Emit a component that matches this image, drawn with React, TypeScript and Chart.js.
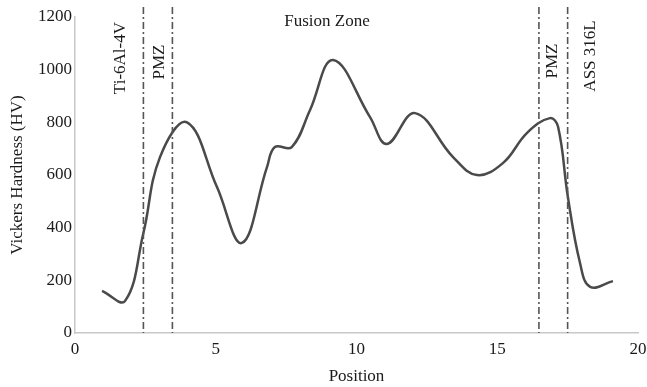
import React, { useEffect, useRef } from "react";
import { Chart, registerables } from "chart.js";

Chart.register(...registerables);

// Measured positions along the joint and Vickers hardness values
const positions = [
  0.96, 1.78, 2.43, 3.02, 3.98, 5.04, 5.93, 6.82, 7.1, 7.7, 8.35, 9.17, 10.48,
  11.08, 12.08, 13.43, 14.28, 15.2, 16.06, 16.87, 17.16, 17.51, 17.94, 18.3,
  19.11,
];
const hardness = [
  160, 122, 380, 668, 800, 555, 342, 630, 706, 706, 847, 1037, 820, 718, 835,
  668, 600, 645, 760, 816, 783, 516, 266, 175, 197,
];

// Zone boundaries (x positions of dash-dot lines)
const boundaryPositions = [2.43, 3.46, 16.48, 17.5];

// Zone labels
const zoneLabels = ["Ti-6Al-4V", "PMZ", "Fusion Zone", "PMZ", "ASS 316L"];
const zoneLabelX = [1.63, 3.02, 8.95, 16.98, 18.3];
const zoneLabelY = [1044, 1029, 1181, 1033, 1052];
const zoneLabelRotated = [true, true, false, true, true];

const FONT = "'Liberation Serif', 'Times New Roman', serif";

export default function App() {
  const ref = useRef<HTMLCanvasElement>(null);

  useEffect(() => {
    if (!ref.current) return;

    const zonesPlugin = {
      id: "zones",
      afterDatasetsDraw(chart: any) {
        const { ctx, chartArea, scales } = chart;
        const xs = scales.x;
        const ys = scales.y;
        ctx.save();
        ctx.strokeStyle = "#555555";
        ctx.lineWidth = 1.6;
        ctx.setLineDash([7, 3, 2, 3]);
        boundaryPositions.forEach((p) => {
          const px = xs.getPixelForValue(p);
          ctx.beginPath();
          ctx.moveTo(px, chartArea.top - 10);
          ctx.lineTo(px, chartArea.bottom);
          ctx.stroke();
        });
        ctx.setLineDash([]);
        ctx.fillStyle = "#1a1a1a";
        ctx.font = `17px ${FONT}`;
        ctx.textAlign = "center";
        ctx.textBaseline = "middle";
        zoneLabels.forEach((t, i) => {
          const px = xs.getPixelForValue(zoneLabelX[i]);
          const py = ys.getPixelForValue(zoneLabelY[i]);
          ctx.save();
          ctx.translate(px, py);
          if (zoneLabelRotated[i]) ctx.rotate(-Math.PI / 2);
          ctx.fillText(t, 0, 0);
          ctx.restore();
        });
        ctx.restore();
      },
    };

    const chart = new Chart(ref.current, {
      type: "line",
      data: {
        datasets: [
          {
            data: positions.map((x, i) => ({ x, y: hardness[i] })),
            borderColor: "#4a4a4a",
            borderWidth: 2.5,
            pointRadius: 0,
            tension: 0.4,
            fill: false,
          },
        ],
      },
      options: {
        responsive: false,
        animation: false,
        layout: { padding: { top: 17, right: 9, bottom: 0, left: 0 } },
        plugins: {
          legend: { display: false },
          tooltip: { enabled: false },
        },
        scales: {
          x: {
            type: "linear",
            min: 0,
            max: 20,
            ticks: {
              stepSize: 5,
              color: "#1a1a1a",
              font: { family: FONT, size: 17 },
              padding: 6,
              maxRotation: 0,
              callback: (v: any) => String(v),
            },
            grid: { display: false, drawTicks: false },
            border: { color: "#c8c8c8", width: 1.5 },
            title: {
              display: true,
              text: "Position",
              color: "#1a1a1a",
              font: { family: FONT, size: 17 },
              padding: { top: 1, bottom: 0 },
            },
            afterFit(scale: any) {
              scale.height = 54;
              scale.paddingRight = 0;
              scale.paddingLeft = 0;
            },
          },
          y: {
            min: 0,
            max: 1200,
            ticks: {
              stepSize: 200,
              color: "#1a1a1a",
              font: { family: FONT, size: 17 },
              padding: 3,
              callback: (v: any) => String(v),
            },
            grid: { display: false, drawTicks: false },
            border: { color: "#c8c8c8", width: 1.5 },
            title: {
              display: true,
              text: "Vickers Hardness (HV)",
              color: "#1a1a1a",
              font: { family: FONT, size: 17 },
              padding: { top: 7, bottom: 0 },
            },
            afterFit(scale: any) {
              scale.width = 75;
              scale.paddingTop = 0;
              scale.paddingBottom = 0;
            },
          },
        },
      },
      plugins: [zonesPlugin],
    } as any);

    return () => chart.destroy();
  }, []);

  return (
    <div style={{ position: "absolute", left: 0, top: 0, width: 647, height: 387, background: "#fff" }}>
      <canvas ref={ref} width={647} height={387} style={{ display: "block" }} />
    </div>
  );
}
